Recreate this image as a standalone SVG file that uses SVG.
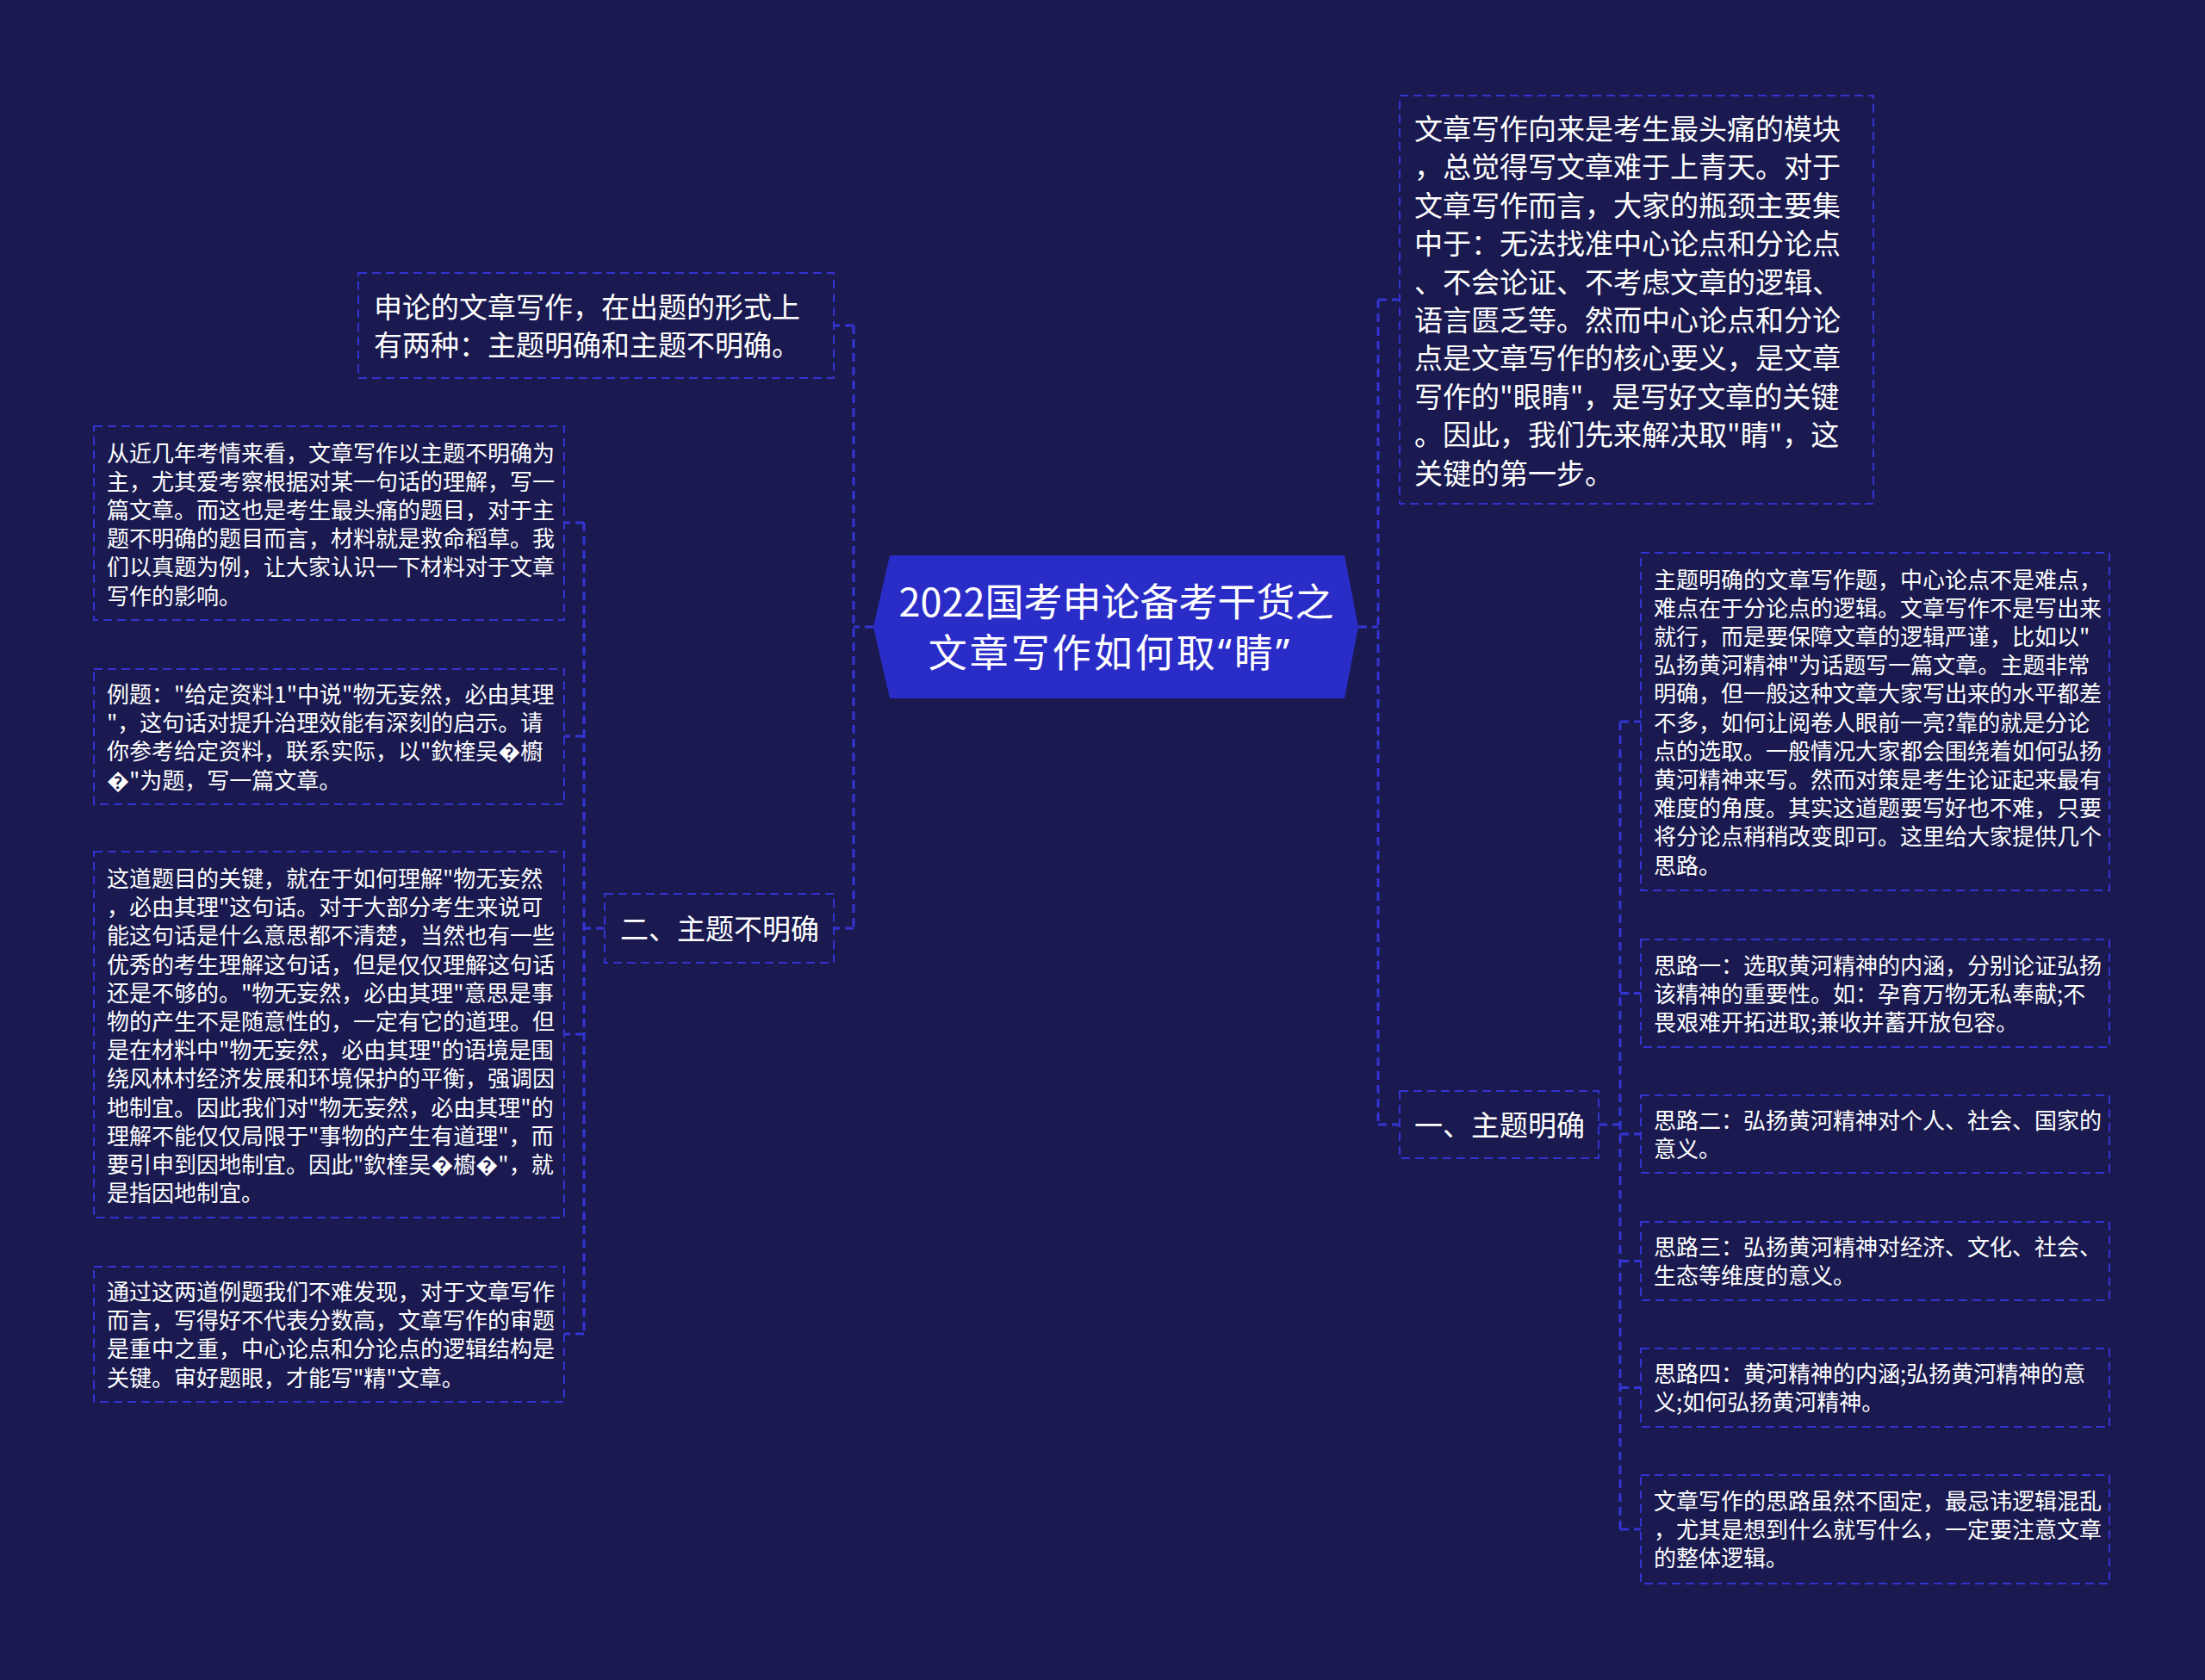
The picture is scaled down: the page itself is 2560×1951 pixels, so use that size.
<svg xmlns="http://www.w3.org/2000/svg" width="2560" height="1951" viewBox="0 0 2560 1951">
<style>
.bg{fill:#1a1a50}
.box{fill:none;stroke:#3333d0;stroke-width:2;stroke-dasharray:10 6}
.con{fill:none;stroke:#3434d4;stroke-width:3;stroke-dasharray:10 6}
.t{font-family:"Noto Sans CJK SC","Noto Sans",sans-serif;fill:#ffffff}
.big{font-size:33px}
.small{font-size:26px}
.title{font-size:45px}
.tq{font-family:"Noto Sans","Noto Sans CJK SC",sans-serif;letter-spacing:3px}
</style>
<rect class="bg" x="0" y="0" width="2560" height="1951"/>

<g id="connectors">
  <path class="con" d="M1014 728 H991 M991 378 V1078 M991 378 H968 M991 1078 H968"/>
  <path class="con" d="M702 1078 H678 M678 607 V1549 M678 607 H655 M678 855 H655 M678 1201 H655 M678 1549 H655"/>
  <path class="con" d="M1577 728 H1600 M1600 348 V1306 M1600 348 H1625 M1600 1306 H1625"/>
  <path class="con" d="M1856 1306 H1881 M1881 838 V1776 M1881 838 H1905 M1881 1153.5 H1905 M1881 1317 H1905 M1881 1464.5 H1905 M1881 1611.5 H1905 M1881 1776 H1905"/>
</g>

<g id="root">
  <polygon points="1033,645 1561,645 1577,728 1561,811 1033,811 1014,728" fill="#2a2cc8"/>
  <text class="t title" text-anchor="middle" x="1296" y="716">2022国考申论备考干货之</text>
  <text class="t title tq" text-anchor="middle" x="1289" y="775">文章写作如何取“睛”</text>
</g>

<g id="intro">
  <rect class="box" x="1625" y="111" width="550" height="474"/>
  <text class="t big" x="1642">
    <tspan x="1642" y="162">文章写作向来是考生最头痛的模块</tspan>
    <tspan x="1642" y="206.4">，总觉得写文章难于上青天。对于</tspan>
    <tspan x="1642" y="250.8">文章写作而言，大家的瓶颈主要集</tspan>
    <tspan x="1642" y="295.2">中于：无法找准中心论点和分论点</tspan>
    <tspan x="1642" y="339.6">、不会论证、不考虑文章的逻辑、</tspan>
    <tspan x="1642" y="384">语言匮乏等。然而中心论点和分论</tspan>
    <tspan x="1642" y="428.4">点是文章写作的核心要义，是文章</tspan>
    <tspan x="1642" y="472.8">写作的"眼睛"，是写好文章的关键</tspan>
    <tspan x="1642" y="517.2">。因此，我们先来解决取"睛"，这</tspan>
    <tspan x="1642" y="561.6">关键的第一步。</tspan>
  </text>
</g>

<g id="forms">
  <rect class="box" x="416" y="317" width="552" height="122"/>
  <text class="t big">
    <tspan x="434" y="368.5">申论的文章写作，在出题的形式上</tspan>
    <tspan x="434" y="413">有两种：主题明确和主题不明确。</tspan>
  </text>
</g>

<g id="branch-unclear">
  <rect class="box" x="702" y="1038" width="266" height="80"/>
  <text class="t big" x="720" y="1090.5">二、主题不明确</text>
</g>

<g id="branch-clear">
  <rect class="box" x="1625" y="1267" width="231" height="78"/>
  <text class="t big" x="1642" y="1318.5">一、主题明确</text>
</g>

<g id="left-a">
  <rect class="box" x="109" y="495" width="546" height="225"/>
  <text class="t small">
    <tspan x="124" y="535.5">从近几年考情来看，文章写作以主题不明确为</tspan>
    <tspan x="124" y="568.7">主，尤其爱考察根据对某一句话的理解，写一</tspan>
    <tspan x="124" y="601.9">篇文章。而这也是考生最头痛的题目，对于主</tspan>
    <tspan x="124" y="635.1">题不明确的题目而言，材料就是救命稻草。我</tspan>
    <tspan x="124" y="668.3">们以真题为例，让大家认识一下材料对于文章</tspan>
    <tspan x="124" y="701.5">写作的影响。</tspan>
  </text>
</g>

<g id="left-b">
  <rect class="box" x="109" y="777" width="546" height="157"/>
  <text class="t small">
    <tspan x="124" y="816">例题："给定资料1"中说"物无妄然，必由其理</tspan>
    <tspan x="124" y="849.2">"，这句话对提升治理效能有深刻的启示。请</tspan>
    <tspan x="124" y="882.4">你参考给定资料，联系实际，以"欽楏吴�櫥</tspan>
    <tspan x="124" y="915.6">�"为题，写一篇文章。</tspan>
  </text>
</g>

<g id="left-c">
  <rect class="box" x="109" y="989" width="546" height="425"/>
  <text class="t small">
    <tspan x="124" y="1030">这道题目的关键，就在于如何理解"物无妄然</tspan>
    <tspan x="124" y="1063.2">，必由其理"这句话。对于大部分考生来说可</tspan>
    <tspan x="124" y="1096.4">能这句话是什么意思都不清楚，当然也有一些</tspan>
    <tspan x="124" y="1129.6">优秀的考生理解这句话，但是仅仅理解这句话</tspan>
    <tspan x="124" y="1162.8">还是不够的。"物无妄然，必由其理"意思是事</tspan>
    <tspan x="124" y="1196">物的产生不是随意性的，一定有它的道理。但</tspan>
    <tspan x="124" y="1229.2">是在材料中"物无妄然，必由其理"的语境是围</tspan>
    <tspan x="124" y="1262.4">绕风林村经济发展和环境保护的平衡，强调因</tspan>
    <tspan x="124" y="1295.6">地制宜。因此我们对"物无妄然，必由其理"的</tspan>
    <tspan x="124" y="1328.8">理解不能仅仅局限于"事物的产生有道理"，而</tspan>
    <tspan x="124" y="1362">要引申到因地制宜。因此"欽楏吴�櫥�"，就</tspan>
    <tspan x="124" y="1395.2">是指因地制宜。</tspan>
  </text>
</g>

<g id="left-d">
  <rect class="box" x="109" y="1471" width="546" height="157"/>
  <text class="t small">
    <tspan x="124" y="1510">通过这两道例题我们不难发现，对于文章写作</tspan>
    <tspan x="124" y="1543.2">而言，写得好不代表分数高，文章写作的审题</tspan>
    <tspan x="124" y="1576.4">是重中之重，中心论点和分论点的逻辑结构是</tspan>
    <tspan x="124" y="1609.6">关键。审好题眼，才能写"精"文章。</tspan>
  </text>
</g>

<g id="right-1">
  <rect class="box" x="1905" y="642" width="544" height="392"/>
  <text class="t small">
    <tspan x="1920" y="682.5">主题明确的文章写作题，中心论点不是难点，</tspan>
    <tspan x="1920" y="715.7">难点在于分论点的逻辑。文章写作不是写出来</tspan>
    <tspan x="1920" y="748.9">就行，而是要保障文章的逻辑严谨，比如以"</tspan>
    <tspan x="1920" y="782.1">弘扬黄河精神"为话题写一篇文章。主题非常</tspan>
    <tspan x="1920" y="815.3">明确，但一般这种文章大家写出来的水平都差</tspan>
    <tspan x="1920" y="848.5">不多，如何让阅卷人眼前一亮?靠的就是分论</tspan>
    <tspan x="1920" y="881.7">点的选取。一般情况大家都会围绕着如何弘扬</tspan>
    <tspan x="1920" y="914.9">黄河精神来写。然而对策是考生论证起来最有</tspan>
    <tspan x="1920" y="948.1">难度的角度。其实这道题要写好也不难，只要</tspan>
    <tspan x="1920" y="981.3">将分论点稍稍改变即可。这里给大家提供几个</tspan>
    <tspan x="1920" y="1014.5">思路。</tspan>
  </text>
</g>

<g id="right-2">
  <rect class="box" x="1905" y="1091" width="544" height="125"/>
  <text class="t small">
    <tspan x="1920" y="1130.5">思路一：选取黄河精神的内涵，分别论证弘扬</tspan>
    <tspan x="1920" y="1163.7">该精神的重要性。如：孕育万物无私奉献;不</tspan>
    <tspan x="1920" y="1196.9">畏艰难开拓进取;兼收并蓄开放包容。</tspan>
  </text>
</g>

<g id="right-3">
  <rect class="box" x="1905" y="1272" width="544" height="90"/>
  <text class="t small">
    <tspan x="1920" y="1311">思路二：弘扬黄河精神对个人、社会、国家的</tspan>
    <tspan x="1920" y="1344.2">意义。</tspan>
  </text>
</g>

<g id="right-4">
  <rect class="box" x="1905" y="1419" width="544" height="91"/>
  <text class="t small">
    <tspan x="1920" y="1458">思路三：弘扬黄河精神对经济、文化、社会、</tspan>
    <tspan x="1920" y="1491.2">生态等维度的意义。</tspan>
  </text>
</g>

<g id="right-5">
  <rect class="box" x="1905" y="1566" width="544" height="91"/>
  <text class="t small">
    <tspan x="1920" y="1605">思路四：黄河精神的内涵;弘扬黄河精神的意</tspan>
    <tspan x="1920" y="1638.2">义;如何弘扬黄河精神。</tspan>
  </text>
</g>

<g id="right-6">
  <rect class="box" x="1905" y="1713" width="544" height="126"/>
  <text class="t small">
    <tspan x="1920" y="1753">文章写作的思路虽然不固定，最忌讳逻辑混乱</tspan>
    <tspan x="1920" y="1786.2">，尤其是想到什么就写什么，一定要注意文章</tspan>
    <tspan x="1920" y="1819.4">的整体逻辑。</tspan>
  </text>
</g>
</svg>
